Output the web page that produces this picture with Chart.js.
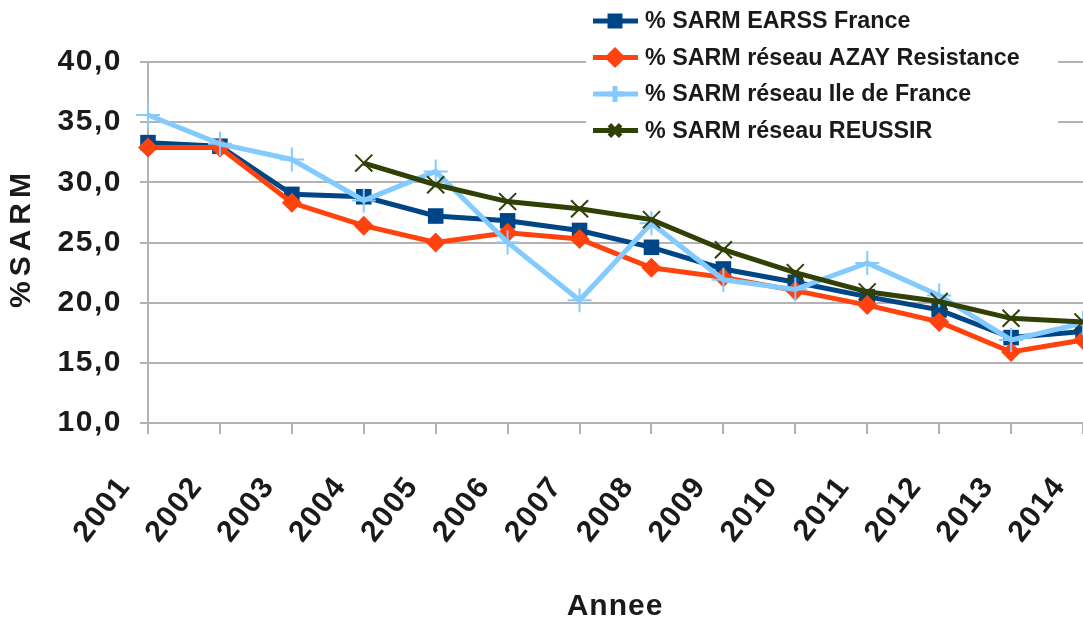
<!DOCTYPE html>
<html>
<head>
<meta charset="utf-8">
<script src="https://cdn.jsdelivr.net/npm/chart.js@4/dist/chart.umd.min.js"></script>
<style>
  body { margin: 0; background: #fff; overflow: hidden; }
  /* le graphique d'origine coupe la dernière année au bord droit */
  .cadre { width: 1083px; height: 623px; overflow: hidden; }
</style>
</head>
<body>
<div class="cadre"><canvas id="chart-sarm" width="1097" height="623"></canvas></div>
<script>
// données (% SARM par année)
const annees = ['2001', '2002', '2003', '2004', '2005', '2006', '2007', '2008', '2009', '2010', '2011', '2012', '2013', '2014'];
const earss = [33.3, 33.0, 29.0, 28.8, 27.2, 26.8, 26.0, 24.6, 22.8, 21.7, 20.5, 19.4, 17.1, 17.6];
const azay = [32.9, 32.9, 28.3, 26.4, 25.0, 25.8, 25.3, 22.9, 22.1, 21.0, 19.8, 18.4, 15.9, 16.9];
const ileDeFrance = [35.6, 33.2, 31.9, 28.5, 30.9, 25.0, 20.2, 26.6, 21.9, 21.1, 23.3, 20.6, 16.9, 18.3];
const reussir = [null, null, null, 31.6, 29.8, 28.4, 27.8, 26.9, 24.4, 22.5, 20.9, 20.1, 18.7, 18.4];
const yTicks = [10, 15, 20, 25, 30, 35, 40];

const GRIS = '#b3b3b3';
const TEXTE = '#1a1a1a';
const POLICE = '"Liberation Sans", Arial, sans-serif';

const datasets = [
  { label: '% SARM EARSS France', data: earss, borderColor: '#004586', backgroundColor: '#004586',
    pointStyle: 'rect', pointRadius: 11, pointBorderWidth: 0, order: 4 },
  { label: '% SARM réseau AZAY Resistance', data: azay, borderColor: '#ff420e', backgroundColor: '#ff420e',
    pointStyle: 'rectRot', pointRadius: 10, pointBorderWidth: 0, order: 3 },
  { label: '% SARM réseau Ile de France', data: ileDeFrance, borderColor: '#83caff', backgroundColor: '#83caff',
    pointStyle: 'cross', pointRadius: 12, pointBorderWidth: 2, order: 2 },
  { label: '% SARM réseau REUSSIR', data: reussir, borderColor: '#314004', backgroundColor: '#314004',
    pointStyle: 'crossRot', pointRadius: 12, pointBorderWidth: 2, order: 1 }
].map(d => ({ ...d, borderWidth: 5, tension: 0, pointHoverRadius: d.pointRadius, spanGaps: false }));

// légende + titres d'axes dessinés à la main
const habillage = {
  id: 'habillage',
  beforeDraw(chart) {
    // les étiquettes des axes sont un peu plus espacées dans l'original
    chart.ctx.letterSpacing = '1.5px';
  },
  afterDraw(chart) {
    const ctx = chart.ctx;
    ctx.save();
    // titre axe Y
    ctx.fillStyle = TEXTE;
    ctx.font = 'bold 30px ' + POLICE;
    ctx.translate(22, 240);
    ctx.rotate(-Math.PI / 2);
    ctx.letterSpacing = '5px';
    ctx.textAlign = 'center';
    ctx.textBaseline = 'middle';
    ctx.fillText('%SARM', 2, 0);
    ctx.restore();

    ctx.save();
    ctx.letterSpacing = '1px';
    ctx.fillStyle = TEXTE;
    ctx.font = 'bold 30px ' + POLICE;
    ctx.textAlign = 'center';
    ctx.textBaseline = 'middle';
    ctx.fillText('Annee', 615, 607);

    // légende
    ctx.letterSpacing = '0px';
    ctx.fillStyle = '#fff';
    ctx.fillRect(586, 0, 472, 147);
    const ordre = [0, 1, 2, 3];
    ordre.forEach((i, rang) => {
      const ds = chart.data.datasets[i];
      const y = 21 + rang * 36.5;
      ctx.strokeStyle = ds.borderColor;
      ctx.lineWidth = 5;
      ctx.beginPath();
      ctx.moveTo(593, y);
      ctx.lineTo(638, y);
      ctx.stroke();
      Chart.helpers.drawPoint(ctx, {
        pointStyle: ds.pointStyle,
        radius: ds.pointStyle === 'rect' ? 7 : ds.pointStyle === 'rectRot' ? 7 : 8,
        borderWidth: ds.pointBorderWidth || 1,
        rotation: 0
      }, 615, y);
      ctx.fillStyle = ds.backgroundColor;
      ctx.lineWidth = 2;
      if (ds.pointStyle === 'rect' || ds.pointStyle === 'rectRot') ctx.fill();
      ctx.fillStyle = TEXTE;
      ctx.font = 'bold 23.3px ' + POLICE;
      ctx.textAlign = 'left';
      ctx.textBaseline = 'middle';
      ctx.fillText(ds.label, 645, y + 1);
    });
    ctx.restore();
  }
};

new Chart(document.getElementById('chart-sarm'), {
  type: 'line',
  data: { labels: annees, datasets },
  plugins: [habillage],
  options: {
    responsive: false,
    animation: false,
    layout: { padding: { top: 62, left: 0, right: 0, bottom: 0 } },
    plugins: { legend: { display: false }, tooltip: { enabled: false } },
    scales: {
      x: {
        offset: false,
        grid: { display: true, drawOnChartArea: false, drawTicks: true, tickLength: 11, color: GRIS, lineWidth: 2 },
        border: { display: true, color: GRIS, width: 2 },
        ticks: {
          color: TEXTE, font: { family: POLICE, size: 30, weight: 'bold' },
          minRotation: 52, maxRotation: 52, padding: 36, labelOffset: -23, autoSkip: false
        },
        afterFit(scale) { scale.height = 200; scale.paddingLeft = 0; scale.paddingRight = 0; }
      },
      y: {
        min: 10, max: 40,
        afterBuildTicks(scale) { scale.ticks = yTicks.map(v => ({ value: v })); },
        grid: { color: GRIS, lineWidth: 2, tickLength: 8 },
        border: { display: true, color: GRIS, width: 2 },
        ticks: {
          color: TEXTE, font: { family: POLICE, size: 30, weight: 'bold' }, padding: 18,
          callback: v => v.toFixed(1).replace('.', ',')
        },
        afterFit(scale) { scale.width = 148; scale.paddingTop = 0; scale.paddingBottom = 0; }
      }
    }
  }
});
</script>
</body>
</html>
